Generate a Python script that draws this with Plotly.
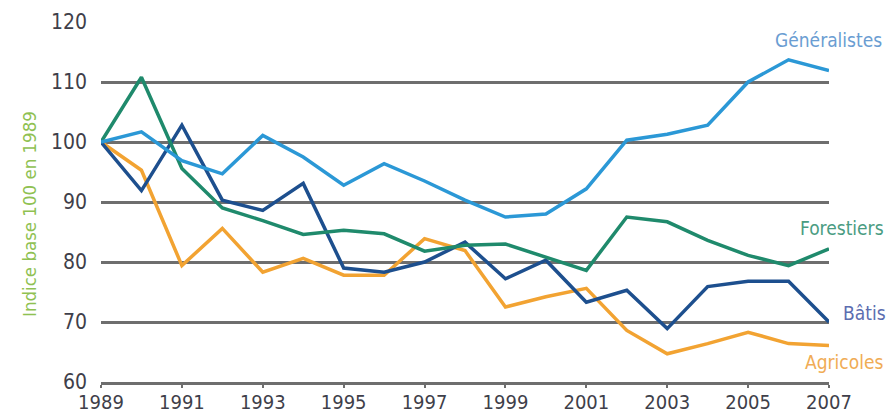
import plotly.graph_objects as go

years = list(range(1989, 2008))
generalistes = [100, 101.7, 96.9, 94.7, 101.1, 97.5, 92.8, 96.4, 93.5, 90.3, 87.5, 88.0, 92.2, 100.3, 101.3, 102.8, 110.0, 113.7, 111.9]
forestiers = [100, 110.8, 95.6, 89.0, 86.9, 84.6, 85.3, 84.7, 81.8, 82.8, 83.0, 80.8, 78.6, 87.5, 86.7, 83.6, 81.1, 79.4, 82.2]
batis = [100, 91.9, 102.8, 90.3, 88.6, 93.1, 79.0, 78.3, 80.0, 83.3, 77.2, 80.3, 73.3, 75.3, 68.9, 75.9, 76.8, 76.8, 70.0]
agricoles = [100, 95.3, 79.4, 85.6, 78.3, 80.6, 77.8, 77.8, 83.9, 81.9, 72.5, 74.2, 75.6, 68.6, 64.7, 66.4, 68.3, 66.4, 66.1]

# name, values, line colour, label colour, label left (paper), label y (data)
series = [
    ("Généralistes", generalistes, "#2b98d6", "#6a9dd2", 0.923, 117.0),
    ("Forestiers", forestiers, "#1f8a6c", "#4a9c82", 0.958, 85.7),
    ("Bâtis", batis, "#1d4f8e", "#5b6db0", 1.016, 71.5),
    ("Agricoles", agricoles, "#f2a332", "#f0ac55", 0.964, 63.3),
]

y_ticks = [60, 70, 80, 90, 100, 110, 120]
x_ticks = list(range(1989, 2008, 2))

FONT = "DejaVu Sans Condensed, Liberation Sans Narrow, sans-serif"

fig = go.Figure()
for name, vals, col, lcol, lx, ly in [series[3], series[2], series[1], series[0]]:
    fig.add_trace(go.Scatter(x=years, y=vals, mode="lines", name=name,
                             line=dict(color=col, width=3.5), showlegend=False))

for name, vals, col, lcol, lx, ly in series:
    fig.add_annotation(x=lx, xref="paper", y=ly, yref="y", text=name,
                       showarrow=False, xanchor="left", yanchor="middle",
                       font=dict(family=FONT, size=19, color=lcol))

fig.add_annotation(x=-0.099, xref="paper", y=88.0, yref="y",
                   text="Indice base 100 en 1989", textangle=-90,
                   showarrow=False, xanchor="center", yanchor="middle",
                   font=dict(family=FONT, size=18.5, color="#8fc152"))

fig.update_layout(
    width=892, height=415,
    margin=dict(l=101, r=63, t=22, b=33, autoexpand=False),
    paper_bgcolor="white", plot_bgcolor="white",
    xaxis=dict(range=[1989, 2007], tickvals=x_ticks, ticktext=[str(v) for v in x_ticks],
               automargin=False,
               showgrid=False, zeroline=False, showline=True, linecolor="#6e6e6e",
               linewidth=2.5, ticks="outside", ticklen=3, tickcolor="#6e6e6e",
               tickwidth=1.5, ticklabelstandoff=-3,
               tickfont=dict(family=FONT, size=20, color="#3f3f4a")),
    yaxis=dict(range=[60, 120], tickvals=y_ticks, showgrid=True, gridcolor="#6e6e6e",
               automargin=False,
               gridwidth=2.5, zeroline=False, showline=False, ticks="",
               ticklabelstandoff=13,
               tickfont=dict(family=FONT, size=21, color="#3f3f4a")),
)

fig.write_html("out.html", config={"displayModeBar": False},
               post_script="document.body.style.margin='0';document.body.style.overflow='hidden';")
